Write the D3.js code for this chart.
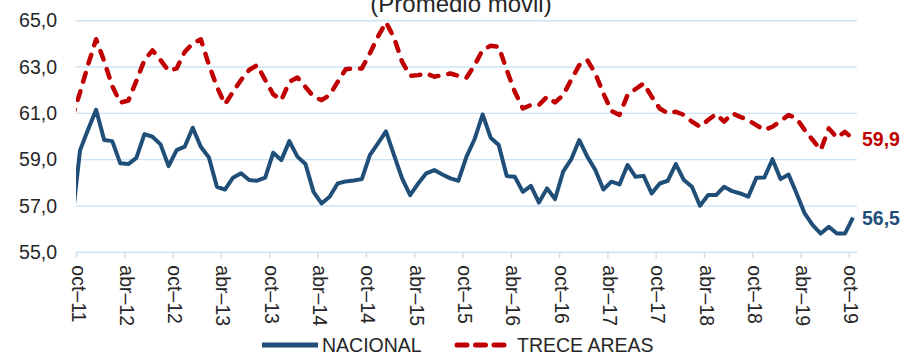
<!DOCTYPE html>
<html lang="es">
<head>
<meta charset="utf-8">
<script src="https://cdn.jsdelivr.net/npm/d3@7"></script>
<style>
  html, body { margin: 0; padding: 0; background: #ffffff; }
  svg { display: block; font-family: "Liberation Sans", Arial, sans-serif; }
</style>
</head>
<body>
<svg id="chart" width="905" height="354"></svg>
<script>
// Monthly moving average, series begin sep-11; the chart window runs oct-11 .. oct-19.
const seriesStart = "sep-11";
const nacional = [
  56.30,
  59.40, 60.30, 61.15, 59.85, 59.80, 58.84, 58.81, 59.08, 60.10, 59.99, 59.66, 58.72,
  59.41, 59.56, 60.38, 59.56, 59.10, 57.83, 57.71, 58.22, 58.41, 58.12, 58.09, 58.22,
  59.30, 58.98, 59.80, 59.13, 58.81, 57.61, 57.11, 57.40, 57.97, 58.06, 58.10, 58.16,
  59.20, 59.70, 60.22, 59.20, 58.19, 57.47, 57.97, 58.41, 58.55, 58.36, 58.19, 58.09,
  59.13, 59.88, 60.95, 59.95, 59.63, 58.29, 58.26, 57.61, 57.87, 57.15, 57.76, 57.30,
  58.48, 59.01, 59.85, 59.13, 58.55, 57.71, 58.05, 57.93, 58.77, 58.26, 58.30, 57.54,
  57.97, 58.09, 58.81, 58.12, 57.83, 57.01, 57.47, 57.47, 57.83, 57.64, 57.54, 57.40,
  58.22, 58.23, 59.02, 58.16, 58.36, 57.54, 56.68, 56.17, 55.81, 56.10, 55.81, 55.81,
  56.50
];
const treceAreas = [
  60.80,
  61.90, 63.10, 64.20, 63.25, 62.18, 61.46, 61.55, 62.40, 63.30, 63.72, 63.30, 62.83,
  62.94, 63.65, 64.02, 64.20, 63.10, 62.15, 61.39, 61.93, 62.44, 62.87, 63.08, 62.44,
  61.82, 61.57, 62.36, 62.55, 62.14, 61.72, 61.57, 61.79, 62.36, 62.90, 62.94, 62.94,
  63.59, 64.31, 64.93, 64.27, 63.23, 62.62, 62.65, 62.72, 62.58, 62.65, 62.72, 62.62,
  62.54, 63.08, 63.73, 63.92, 63.88, 62.87, 61.93, 61.21, 61.36, 61.36, 61.72, 61.47,
  61.79, 62.44, 63.08, 63.30, 62.72, 61.86, 61.10, 60.93, 61.79, 62.05, 62.29, 61.72,
  61.21, 61.00, 61.07, 60.93, 60.64, 60.42, 60.71, 60.97, 60.64, 61.00, 60.85, 60.70,
  60.49, 60.28, 60.42, 60.67, 60.93, 60.78, 60.28, 59.85, 59.42, 60.35, 59.95, 60.20,
  59.90
];
const seriesNames = ["NACIONAL", "TRECE AREAS"];
const monthCount = 97;                 // oct-11 .. oct-19
const tickLabels = ["oct–11", "abr–12", "oct–12", "abr–13", "oct–13", "abr–14", "oct–14", "abr–15",
                    "oct–15", "abr–16", "oct–16", "abr–17", "oct–17", "abr–18", "oct–18", "abr–19", "oct–19"];
const yTicks = [55, 57, 59, 61, 63, 65];
const subtitle = "(Promedio móvil)";

const colors = { nacional: "#1f4e79", trece: "#c00000" };
const gridColor = "#cce3f6";
const textColor = "#262626";

const svg = d3.select("#chart");
const plot = { left: 76, right: 857, top: 20.7, bottom: 252.3 };

// month index 0 = oct-11; each month occupies one slot, points sit at slot centres
const x = d3.scaleLinear().domain([0, monthCount]).range([plot.left, plot.right]);
const y = d3.scaleLinear().domain([55, 65]).range([plot.bottom, plot.top]);
const xPoint = i => x(i + 0.5);

// subtitle line (second line of the heading, sitting at the top edge)
svg.append("text")
  .attr("x", 461).attr("y", 11.5)
  .attr("text-anchor", "middle")
  .attr("font-size", 24)
  .attr("fill", textColor)
  .text(subtitle);

// horizontal gridlines
svg.append("g")
  .selectAll("line")
  .data(yTicks.filter(v => v > 55))
  .join("line")
  .attr("x1", plot.left).attr("x2", plot.right)
  .attr("y1", d => y(d)).attr("y2", d => y(d))
  .attr("stroke", gridColor).attr("stroke-width", 1.4);

// y axis labels
const yAxis = d3.axisLeft(y).tickValues(yTicks).tickSize(0).tickPadding(19)
  .tickFormat(d => d3.format(".1f")(d).replace(".", ","));
const gy = svg.append("g").attr("transform", `translate(${plot.left},0)`).call(yAxis);
gy.select(".domain").remove();
gy.selectAll("text").attr("font-size", 19.5).attr("fill", textColor)
  .attr("font-family", "Liberation Sans, Arial, sans-serif");

// x axis with rotated month labels every six months
const tickIdx = tickLabels.map((_, k) => k * 6);
const xAxis = d3.axisBottom(x).tickValues(tickIdx).tickSize(6)
  .tickFormat(d => tickLabels[d / 6]);
const gx = svg.append("g").attr("transform", `translate(0,${plot.bottom})`).call(xAxis);
gx.select(".domain").attr("stroke", gridColor).attr("stroke-width", 1.6)
  .attr("d", `M${plot.left},0H${plot.right}`);
gx.selectAll(".tick line").attr("stroke", gridColor).attr("stroke-width", 1.6);
gx.selectAll(".tick text")
  .attr("font-size", 19.5)
  .attr("font-family", "Liberation Sans, Arial, sans-serif")
  .attr("fill", textColor)
  .attr("text-anchor", "start")
  .attr("dominant-baseline", "central")
  .attr("x", 0).attr("y", 0).attr("dy", null)
  .attr("transform", "translate(2,13) rotate(90)");

// clip the lines to the plotted window
svg.append("defs").append("clipPath").attr("id", "plotClip")
  .append("rect").attr("x", plot.left).attr("y", 0)
  .attr("width", plot.right - plot.left).attr("height", 354);

// data start one month before the window (index -1)
const line = d3.line().x((d, i) => xPoint(i - 1)).y(d => y(d));

const lines = svg.append("g").attr("clip-path", "url(#plotClip)");
lines.append("path")
  .datum(nacional)
  .attr("d", line)
  .attr("fill", "none")
  .attr("stroke", colors.nacional)
  .attr("stroke-width", 4)
  .attr("stroke-linejoin", "round");

const dash = "9 10";
lines.append("path")
  .datum(treceAreas)
  .attr("d", line)
  .attr("fill", "none")
  .attr("stroke", colors.trece)
  .attr("stroke-width", 4.5)
  .attr("stroke-linecap", "round")
  .attr("stroke-linejoin", "round")
  .attr("stroke-dasharray", dash);

// end-of-series value labels
const fmt = v => d3.format(".1f")(v).replace(".", ",");
const lastIdx = monthCount - 1;
[[nacional, colors.nacional], [treceAreas, colors.trece]].forEach(([s, c]) => {
  const v = s[s.length - 1];
  svg.append("text")
    .attr("x", xPoint(lastIdx) + 9)
    .attr("y", y(v))
    .attr("dominant-baseline", "central")
    .attr("font-size", 19.5)
    .attr("font-weight", "bold")
    .attr("fill", c)
    .text(fmt(v));
});

// legend
const legendY = 345;
const legend = svg.append("g");
const legendItems = [
  { name: seriesNames[0], color: colors.nacional, x0: 262, x1: 318, tx: 322, dashed: false },
  { name: seriesNames[1], color: colors.trece, x0: 457, x1: 505, tx: 517, dashed: true }
];
legendItems.forEach(it => {
  legend.append("line")
    .attr("x1", it.x0).attr("x2", it.x1).attr("y1", legendY).attr("y2", legendY)
    .attr("stroke", it.color)
    .attr("stroke-width", 5)
    .attr("stroke-linecap", it.dashed ? "round" : "butt")
    .attr("stroke-dasharray", it.dashed ? "10 8.5" : null);
  legend.append("text")
    .attr("x", it.tx).attr("y", legendY)
    .attr("dominant-baseline", "central")
    .attr("font-size", 19.5)
    .attr("fill", textColor)
    .text(it.name);
});
</script>
</body>
</html>
